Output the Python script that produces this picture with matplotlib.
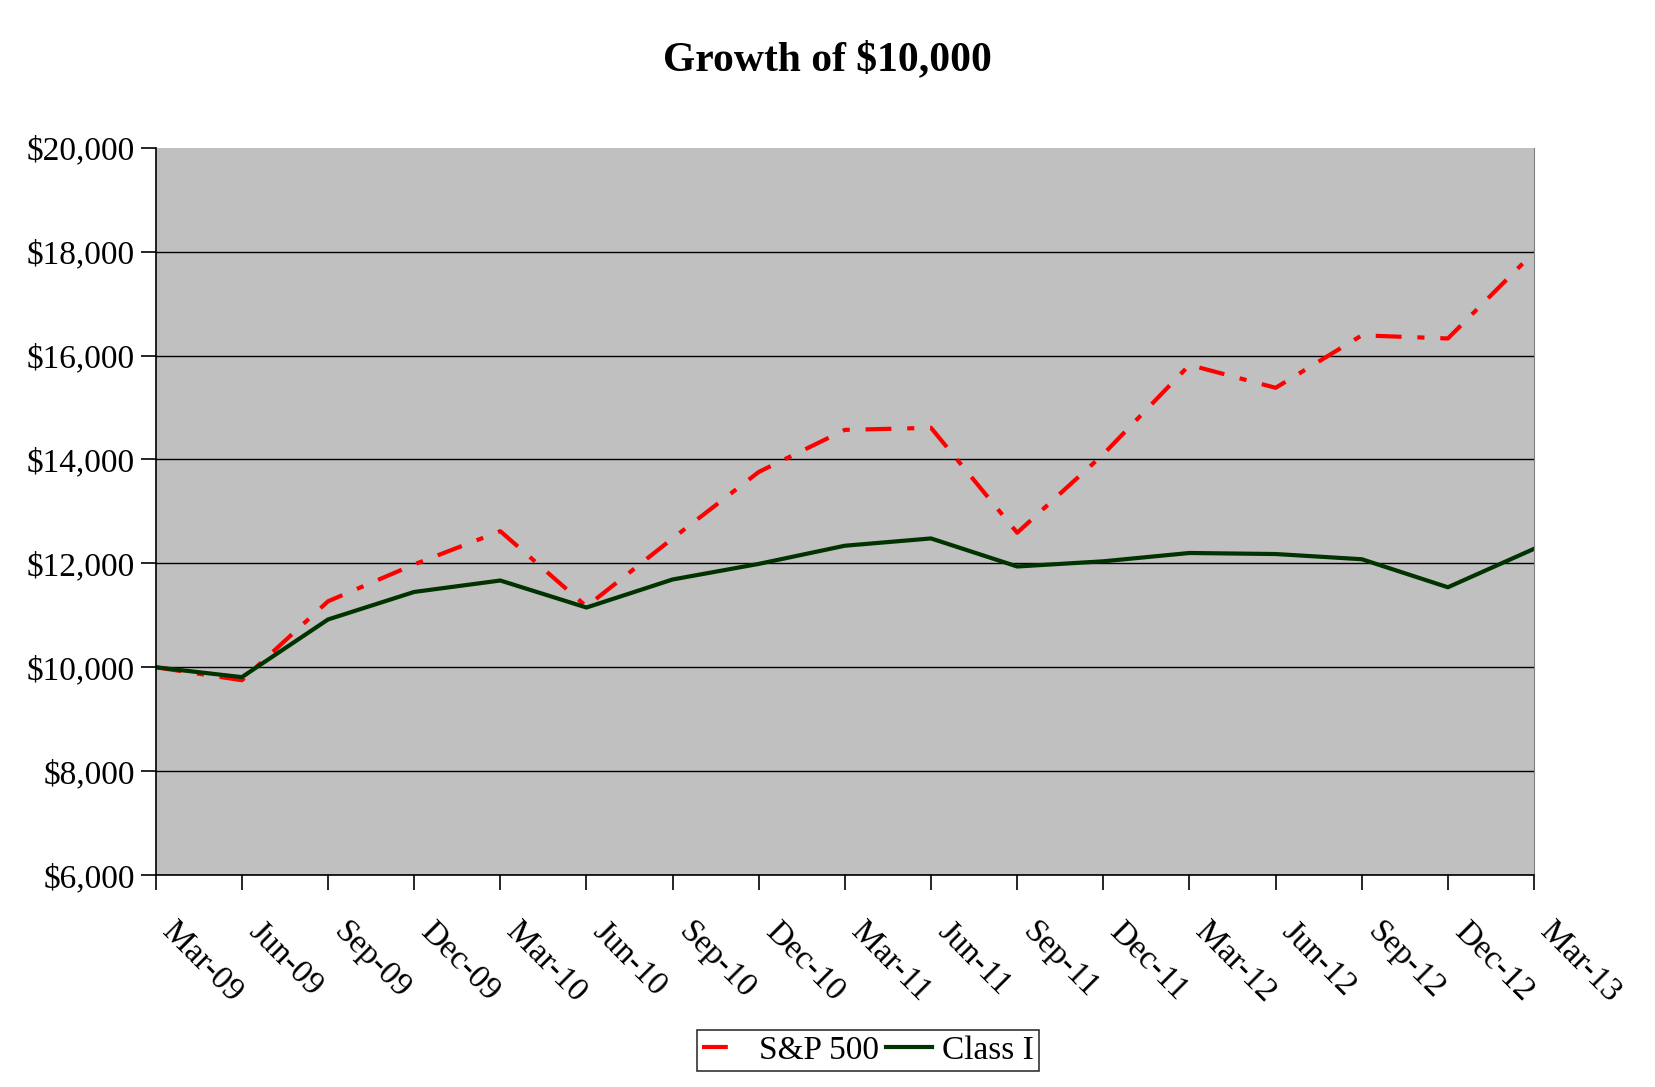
import matplotlib
matplotlib.use("Agg")
import matplotlib.pyplot as plt
from matplotlib.lines import Line2D
import numpy as np

plt.rcParams['font.family'] = ['Liberation Serif', 'DejaVu Serif']

quarters = ["Mar-09", "Jun-09", "Sep-09", "Dec-09", "Mar-10", "Jun-10", "Sep-10",
            "Dec-10", "Mar-11", "Jun-11", "Sep-11", "Dec-11", "Mar-12", "Jun-12",
            "Sep-12", "Dec-12", "Mar-13"]
sp500 = [10000, 9750, 11270, 11980, 12620, 11170, 12480, 13760, 14570, 14610,
         12590, 14100, 15820, 15380, 16390, 16330, 17990]
class_i = [10000, 9810, 10920, 11450, 11670, 11150, 11690, 11990, 12340, 12480,
           11940, 12040, 12200, 12180, 12080, 11540, 12280]
y_ticks = [6000, 8000, 10000, 12000, 14000, 16000, 18000, 20000]

fig = plt.figure(figsize=(16.55, 10.87), dpi=100)
ax = fig.add_axes([0.0941, 0.195, 0.8328, 0.669])
ax.set_facecolor('#C0C0C0')

x = np.arange(len(quarters))
ax.plot(x, sp500, color='#FF0000', lw=3, dashes=(6.2, 3.8, 1.7, 3.8))
ax.plot(x, class_i, color='#003300', lw=3)

ax.set_xlim(0, len(quarters) - 1)
ax.set_ylim(6000, 20000)
ax.set_yticks(y_ticks)
ax.set_yticklabels(['${:,}'.format(v) for v in y_ticks], fontsize=24)
ax.set_xticks(x)
ax.set_xticklabels(quarters, fontsize=24, rotation=-45, ha='left', va='top')
ax.tick_params(axis='x', length=11, width=1.2, pad=19)
ax.tick_params(axis='y', length=11, width=1.2, pad=4)
ax.grid(axis='y', color='black', lw=1)
ax.get_ygridlines()[-1].set_visible(False)
ax.set_axisbelow(True)
for side in ['left', 'bottom']:
    ax.spines[side].set_linewidth(1.2)
ax.spines['top'].set_visible(False)
ax.spines['right'].set_color('#808080')

fig.text(0.4997, 0.945, 'Growth of $10,000', fontsize=30, fontweight='bold',
         ha='center', va='center')

handles = [Line2D([], [], color='#FF0000', lw=3, dashes=(6.2, 10)),
           Line2D([], [], color='#003300', lw=3)]
leg = fig.legend(handles, ['S&P 500', 'Class I'], loc='center',
                 bbox_to_anchor=(0.5245, 0.0335), ncol=2, fontsize=24,
                 frameon=True, fancybox=False, edgecolor='black', handlelength=1.4,
                 handletextpad=0.3, columnspacing=0.2, borderpad=0.15,
                 borderaxespad=0)
leg.get_frame().set_linewidth(1.2)

fig.savefig('out.png', dpi=100)
